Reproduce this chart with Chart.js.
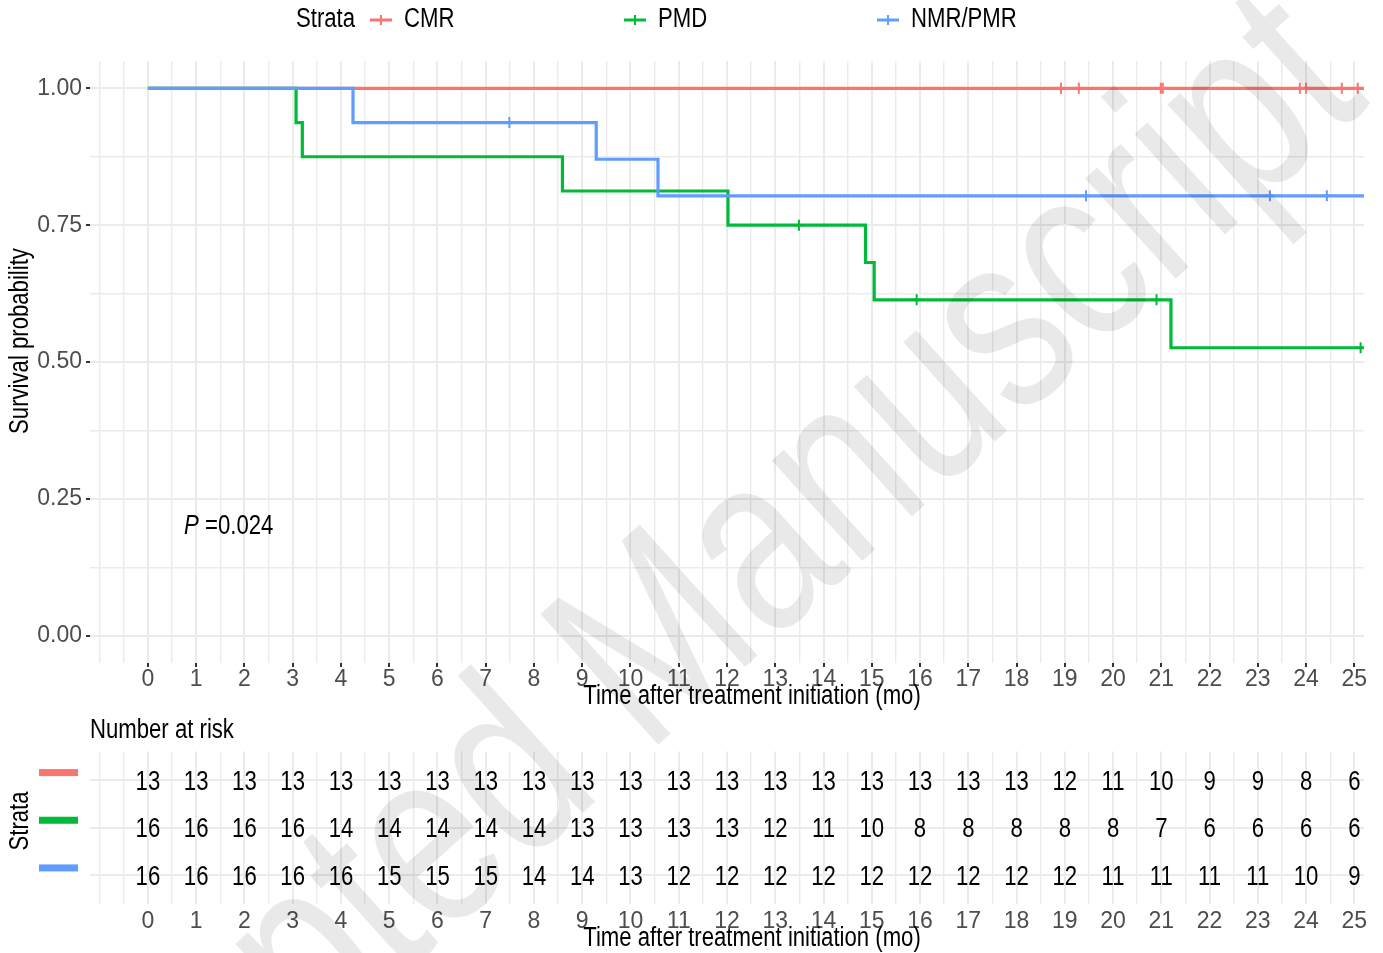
<!DOCTYPE html>
<html>
<head>
<meta charset="utf-8">
<script src="https://cdn.jsdelivr.net/npm/chart.js@4.4.0/dist/chart.umd.min.js"></script>
<style>
  html, body { margin: 0; padding: 0; background: #fff; }
  #wrap { position: relative; width: 1383px; height: 953px; overflow: hidden; background: #fff; }
  canvas { position: absolute; left: 0; }
</style>
</head>
<body>
<div id="wrap">
  <canvas id="kmChart" width="1383" height="712" style="top:0"></canvas>
  <canvas id="riskChart" width="1383" height="241" style="top:712px"></canvas>
</div>
<script>
// ---- data ----
const strata = ['CMR', 'PMD', 'NMR/PMR'];
const timeTicks = [0, 1, 2, 3, 4, 5, 6, 7, 8, 9, 10, 11, 12, 13, 14, 15, 16, 17, 18, 19, 20, 21, 22, 23, 24, 25];
const survTicks = [0, 0.25, 0.5, 0.75, 1];

// step curves: time of each step and survival after it
const cmrTimes = [0, 25.2];
const cmrSurv = [1, 1];
const pmdTimes = [0, 3.07, 3.2, 8.59, 12.02, 14.87, 15.05, 21.2, 25.2];
const pmdSurv = [1, 0.9375, 0.875, 0.8125, 0.75, 0.6818, 0.6136, 0.526, 0.526];
const nmrTimes = [0, 4.25, 9.29, 10.57, 25.2];
const nmrSurv = [1, 0.9375, 0.8705, 0.8036, 0.8036];

// censored observations
const cmrCensorTimes = [18.92, 19.29, 20.99, 21.03, 23.87, 24.0, 24.74, 25.07];
const cmrCensorSurv = [1, 1, 1, 1, 1, 1, 1, 1];
const pmdCensorTimes = [13.49, 15.93, 20.9, 25.13];
const pmdCensorSurv = [0.75, 0.6136, 0.6136, 0.526];
const nmrCensorTimes = [7.49, 19.44, 23.25, 24.43];
const nmrCensorSurv = [0.9375, 0.8036, 0.8036, 0.8036];

// number at risk at each tick
const riskCMR = [13, 13, 13, 13, 13, 13, 13, 13, 13, 13, 13, 13, 13, 13, 13, 13, 13, 13, 13, 12, 11, 10, 9, 9, 8, 6];
const riskPMD = [16, 16, 16, 16, 14, 14, 14, 14, 14, 13, 13, 13, 13, 12, 11, 10, 8, 8, 8, 8, 8, 7, 6, 6, 6, 6];
const riskNMR = [16, 16, 16, 16, 16, 15, 15, 15, 14, 14, 13, 12, 12, 12, 12, 12, 12, 12, 12, 12, 11, 11, 11, 11, 10, 9];

const pValue = '0.024';

// ---- styling ----
const colors = ['#F8766D', '#00BA38', '#619CFF'];
const FONT = '"Liberation Sans", Arial, sans-serif';
const NARROW = 0.82;   // the figure uses a condensed face; squeeze the plain one
const gridColor = '#EBEBEB';
const xMin = -1.2, xMax = 25.2;

Chart.defaults.font.family = FONT;
Chart.defaults.font.size = 23;

const toPoints = (xs, ys) => xs.map((x, i) => ({x: x, y: ys[i]}));

// minor grid every half month, labels only on whole months
const gridX = [];
for (let v = -1; v <= 25; v += 0.5) gridX.push(v);
const gridY = [];
for (let v = 0; v <= 1.0001; v += 0.125) gridY.push(Math.round(v * 1000) / 1000);
const isMajorX = v => timeTicks.includes(v);
const isMajorY = v => survTicks.includes(v);

// condensed text helper
function say(ctx, text, x, y, opts) {
    opts = opts || {};
    ctx.save();
    ctx.translate(x, y);
    if (opts.rotate) ctx.rotate(opts.rotate);
    ctx.scale(NARROW, 1);
    ctx.font = (opts.italic ? 'italic ' : '') + '27px ' + FONT;
    ctx.fillStyle = opts.color || '#000';
    ctx.textAlign = opts.align || 'left';
    ctx.textBaseline = 'middle';
    ctx.fillText(text, 0, 0);
    const w = ctx.measureText(text).width * NARROW;
    ctx.restore();
    return w;
}

const watermark = offsetY => ({
    id: 'watermark',
    afterDraw(chart) {
        const ctx = chart.ctx;
        ctx.save();
        ctx.translate(-14, 1350 - offsetY);
        ctx.rotate(-42 * Math.PI / 180);
        ctx.scale(0.78, 1);
        ctx.font = '256px ' + FONT;
        ctx.fillStyle = 'rgba(0,0,0,0.085)';
        ctx.textAlign = 'left';
        ctx.textBaseline = 'alphabetic';
        ctx.fillText('Accepted Manuscript', 0, 0);
        ctx.restore();
    }
});

function xAxis(withTicks) {
    return {
        type: 'linear',
        min: xMin,
        max: xMax,
        afterBuildTicks: s => { s.ticks = gridX.map(v => ({value: v})); },
        afterFit: s => { s.height = 49; },
        border: {display: false},
        grid: {
            color: gridColor,
            lineWidth: c => isMajorX(c.tick.value) ? 2 : 1.4,
            drawTicks: withTicks,
            tickLength: 4,
            tickWidth: 2,
            tickColor: c => isMajorX(c.tick.value) ? '#333333' : 'rgba(0,0,0,0)'
        },
        ticks: {
            autoSkip: false,
            maxRotation: 0,
            minRotation: 0,
            padding: withTicks ? 1 : 6,
            color: '#4D4D4D',
            font: {size: 23, lineHeight: 1},
            callback: v => isMajorX(v) ? String(v) : ''
        }
    };
}

// ---- survival curves ----
const curveSets = [
    [cmrTimes, cmrSurv, cmrCensorTimes, cmrCensorSurv],
    [pmdTimes, pmdSurv, pmdCensorTimes, pmdCensorSurv],
    [nmrTimes, nmrSurv, nmrCensorTimes, nmrCensorSurv]
];
const kmDatasets = [];
curveSets.forEach((c, i) => {
    kmDatasets.push({
        label: strata[i],
        data: toPoints(c[0], c[1]),
        showLine: true,
        stepped: true,
        borderColor: colors[i],
        borderWidth: 3.2,
        pointRadius: 0,
        order: 10 - 2 * i
    });
    kmDatasets.push({
        label: strata[i] + ' censored',
        data: toPoints(c[2], c[3]),
        showLine: false,
        pointStyle: 'cross',
        pointRadius: 5.5,
        borderColor: colors[i],
        pointBorderWidth: 2,
        order: 9 - 2 * i
    });
});

const kmExtras = {
    id: 'kmExtras',
    afterDraw(chart) {
        const ctx = chart.ctx;
        // legend
        say(ctx, 'Strata', 296, 20);
        const keyX = [381, 635, 888];
        strata.forEach((name, i) => {
            ctx.save();
            ctx.strokeStyle = colors[i];
            ctx.lineWidth = 3;
            ctx.beginPath();
            ctx.moveTo(keyX[i] - 11, 20); ctx.lineTo(keyX[i] + 11, 20);
            ctx.stroke();
            ctx.lineWidth = 2;
            ctx.beginPath();
            ctx.moveTo(keyX[i], 15); ctx.lineTo(keyX[i], 25);
            ctx.stroke();
            ctx.restore();
            say(ctx, name, keyX[i] + 23, 20);
        });
        // p value
        const px = chart.scales.x.getPixelForValue(0.75);
        const py = chart.scales.y.getPixelForValue(0.2);
        const w = say(ctx, 'P', px, py, {italic: true});
        say(ctx, ' =' + pValue, px + w, py);
        // axis titles
        say(ctx, 'Time after treatment initiation (mo)', 752, 697, {align: 'center'});
        say(ctx, 'Survival probability', 21, 341, {align: 'center', rotate: -Math.PI / 2});
    }
};

new Chart(document.getElementById('kmChart').getContext('2d'), {
    type: 'scatter',
    data: {datasets: kmDatasets},
    options: {
        responsive: false,
        animation: false,
        devicePixelRatio: 1,
        layout: {padding: {top: 61, right: 19, left: 0, bottom: 0}},
        scales: {
            x: xAxis(true),
            y: {
                min: -0.05,
                max: 1.05,
                afterBuildTicks: s => { s.ticks = gridY.map(v => ({value: v})); },
                afterFit: s => { s.width = 90; },
                border: {display: false},
                grid: {
                    color: gridColor,
                    lineWidth: c => isMajorY(c.tick.value) ? 2 : 1.4,
                    tickLength: 4,
                    tickWidth: 2,
                    tickColor: c => isMajorY(c.tick.value) ? '#333333' : 'rgba(0,0,0,0)'
                },
                ticks: {
                    padding: 4,
                    color: '#4D4D4D',
                    font: {size: 23, lineHeight: 1},
                    callback: v => isMajorY(v) ? v.toFixed(2) : ''
                }
            }
        },
        plugins: {
            legend: {display: false},
            tooltip: {enabled: false}
        }
    },
    plugins: [kmExtras, watermark(0)]
});

// ---- risk table ----
const riskRows = [riskCMR, riskPMD, riskNMR];
const riskDatasets = riskRows.map((row, i) => ({
    label: strata[i],
    data: timeTicks.map((t, j) => ({x: t, y: i + 1, n: row[j]})),
    pointRadius: 0,
    showLine: false
}));

const riskExtras = {
    id: 'riskExtras',
    afterDraw(chart) {
        const ctx = chart.ctx;
        say(ctx, 'Number at risk', 90, 19);
        chart.data.datasets.forEach((ds, i) => {
            const meta = chart.getDatasetMeta(i);
            meta.data.forEach((el, j) => {
                say(ctx, String(ds.data[j].n), el.x, el.y + 2, {align: 'center'});
            });
            const yRow = chart.scales.y.getPixelForValue(i + 1);
            ctx.save();
            ctx.fillStyle = colors[i];
            ctx.fillRect(39, yRow - 11, 39, 7);
            ctx.restore();
        });
        say(ctx, 'Time after treatment initiation (mo)', 752, 227, {align: 'center'});
        say(ctx, 'Strata', 21, 109, {align: 'center', rotate: -Math.PI / 2});
    }
};

new Chart(document.getElementById('riskChart').getContext('2d'), {
    type: 'scatter',
    data: {datasets: riskDatasets},
    options: {
        responsive: false,
        animation: false,
        devicePixelRatio: 1,
        layout: {padding: {top: 39.5, right: 19, left: 0, bottom: 0}},
        scales: {
            x: xAxis(false),
            y: {
                min: 0.4,
                max: 3.6,
                reverse: true,
                afterBuildTicks: s => { s.ticks = [1, 2, 3].map(v => ({value: v})); },
                afterFit: s => { s.width = 90; },
                border: {display: false},
                grid: {color: gridColor, lineWidth: 2, drawTicks: false},
                ticks: {callback: () => ''}
            }
        },
        plugins: {
            legend: {display: false},
            tooltip: {enabled: false}
        }
    },
    plugins: [riskExtras, watermark(712)]
});
</script>
</body>
</html>
